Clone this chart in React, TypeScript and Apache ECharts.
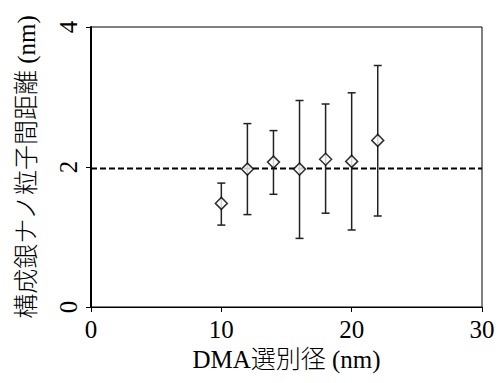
import React, { useEffect, useRef } from "react";
import * as echarts from "echarts";

const xValues = [10, 12, 14, 16, 18, 20, 22];
const meanValues = [1.48, 1.97, 2.07, 1.97, 2.11, 2.08, 2.38];
const lowValues = [1.17, 1.32, 1.61, 0.98, 1.34, 1.1, 1.3];
const highValues = [1.77, 2.62, 2.52, 2.95, 2.9, 3.06, 3.45];
const refLineY = 1.98;
const xTicks = [0, 10, 20, 30];
const yTicks = [0, 2, 4];

const FONT = "'Liberation Serif', 'Times New Roman', 'Noto Sans CJK JP', serif";

export default function App() {
  const ref = useRef<HTMLDivElement>(null);
  useEffect(() => {
    if (!ref.current) return;
    const chart = echarts.init(ref.current, undefined, { renderer: "svg" });
    const errData = xValues.map((x, i) => [x, lowValues[i], highValues[i]]);
    chart.setOption({
      animation: false,
      grid: {
        left: 91,
        right: 18,
        top: 27,
        bottom: 76,
        show: true,
        borderColor: "#000",
        borderWidth: 1,
        backgroundColor: "transparent",
      },
      xAxis: {
        type: "value",
        min: xTicks[0],
        max: xTicks[xTicks.length - 1],
        interval: 10,
        name: "DMA選別径 (nm)",
        nameLocation: "middle",
        nameGap: 38,
        nameTextStyle: { fontFamily: FONT, fontSize: 25, color: "#000", fontWeight: 300 },
        axisLine: { show: true, onZero: false, lineStyle: { color: "#000", width: 1 } },
        axisTick: { show: true, inside: false, length: 5, lineStyle: { color: "#000" } },
        axisLabel: { fontFamily: FONT, fontSize: 25, color: "#000", margin: 10 },
        splitLine: { show: false },
      },
      yAxis: {
        type: "value",
        min: yTicks[0],
        max: yTicks[yTicks.length - 1],
        interval: 2,
        name: "構成銀ナノ粒子間距離 (nm)",
        nameLocation: "middle",
        nameGap: 52,
        nameTextStyle: { fontFamily: FONT, fontSize: 25, color: "#000", fontWeight: 300 },
        axisLine: { show: true, onZero: false, lineStyle: { color: "#000", width: 2 } },
        axisTick: { show: true, inside: false, length: 5, lineStyle: { color: "#000" } },
        axisLabel: { fontFamily: FONT, fontSize: 25, color: "#000", margin: 10, rotate: 90 },
        splitLine: { show: false },
      },
      series: [
        {
          type: "line",
          data: [
            [xTicks[0], refLineY],
            [xTicks[xTicks.length - 1], refLineY],
          ],
          symbol: "none",
          lineStyle: { color: "#000", width: 2, type: [6, 3] },
          z: 1,
        },
        {
          type: "custom",
          data: errData,
          z: 2,
          renderItem: (params: any, api: any) => {
            const x = api.value(0);
            const lo = api.coord([x, api.value(1)]);
            const hi = api.coord([x, api.value(2)]);
            const cap = 4;
            const style = { stroke: "#222", lineWidth: 1.5 };
            return {
              type: "group",
              children: [
                { type: "line", shape: { x1: lo[0], y1: lo[1], x2: hi[0], y2: hi[1] }, style },
                { type: "line", shape: { x1: lo[0] - cap, y1: lo[1], x2: lo[0] + cap, y2: lo[1] }, style },
                { type: "line", shape: { x1: hi[0] - cap, y1: hi[1], x2: hi[0] + cap, y2: hi[1] }, style },
              ],
            };
          },
        },
        {
          type: "scatter",
          data: xValues.map((x, i) => [x, meanValues[i]]),
          symbol: "diamond",
          symbolSize: [12, 12],
          itemStyle: { color: "#fff", borderColor: "#000", borderWidth: 1.5 },
          z: 3,
        },
      ],
    });
    return () => chart.dispose();
  }, []);
  return <div ref={ref} style={{ width: 500, height: 383, position: "absolute", left: 0, top: 0 }} />;
}
